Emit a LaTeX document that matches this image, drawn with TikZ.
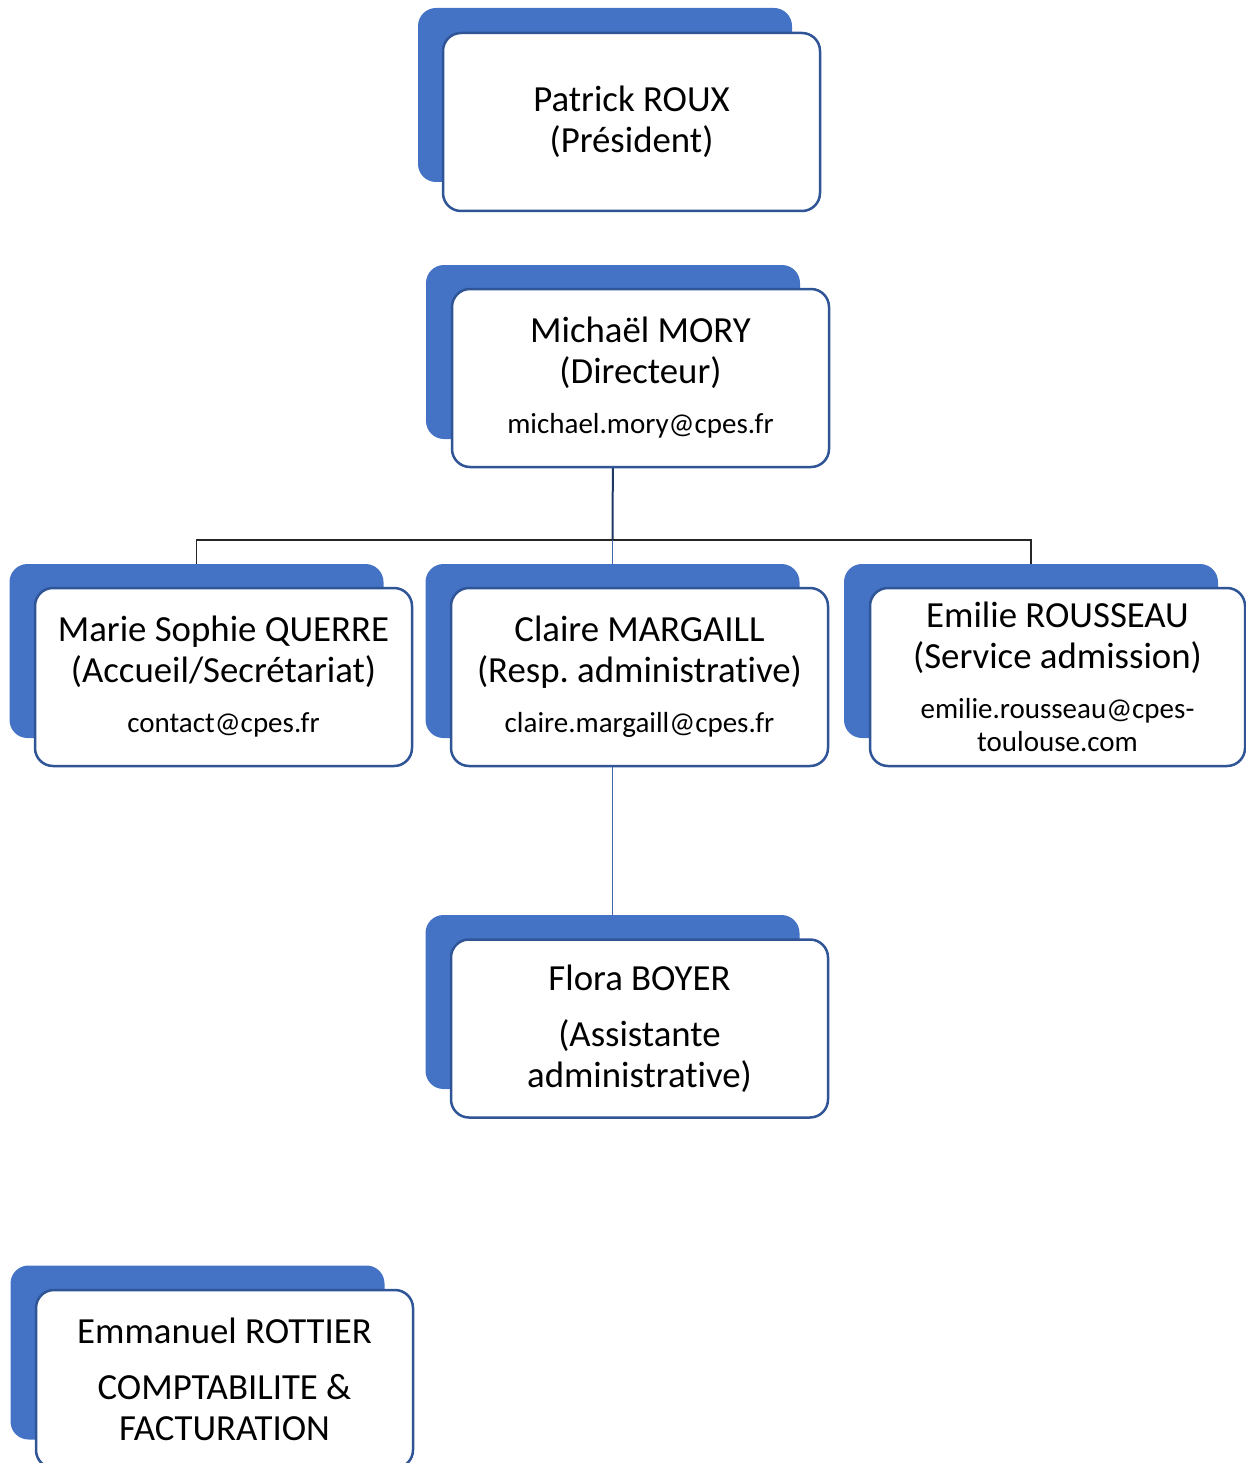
\documentclass[tikz,border=0pt]{standalone}
\usepackage{fontspec}
\setmainfont{Carlito}[Ligatures=NoCommon]
\frenchspacing
\definecolor{cardblue}{HTML}{4472C4}
\definecolor{cardedge}{HTML}{2F5597}
\definecolor{navyline}{HTML}{1F3864}
\definecolor{dropline}{HTML}{3F68B0}
\newcommand\emailtxt[1]{{\fontsize{29}{33}\selectfont #1}}
\pgfdeclarelayer{bg}
\pgfsetlayers{bg,main}
\tikzset{
  backcard/.style={draw=none, fill=cardblue, rounded corners=18pt, minimum width=374pt, minimum height=174pt, inner sep=0pt},
  frontcard/.style={draw=cardedge, line width=2.5pt, fill=white, rounded corners=18pt, minimum width=377pt, minimum height=178pt, inner sep=0pt, align=center, font=\fontsize{36.8}{41}\selectfont},
  treeline/.style={draw=black!85, line width=1.2pt},
  linkline/.style={draw=dropline, line width=1.6pt},
}
\begin{document}
\begin{tikzpicture}[x=1pt,y=-1pt]
\useasboundingbox (0,0) rectangle (1246,1463);
% cards
\node[backcard] (pb) at (605,95) {};
\node[frontcard] (p) at (631.5,122) {Patrick ROUX\\(Président)};
\node[backcard] (mb) at (613,352) {};
\node[frontcard] (m) at (640.5,378) {Michaël MORY\\(Directeur)\\[9pt]\emailtxt{michael.mory@cpes.fr}};
\node[backcard] (qb) at (196.5,651) {};
\node[frontcard] (q) at (223.5,677) {Marie Sophie QUERRE\\(Accueil/Secrétariat)\\[9pt]\emailtxt{contact@cpes.fr}};
\node[backcard] (cb) at (612.5,651) {};
\node[frontcard] (c) at (639.5,677) {Claire MARGAILL\\(Resp. administrative)\\[9pt]\emailtxt{claire.margaill@cpes.fr}};
\node[backcard] (eb) at (1031,651) {};
\node[frontcard, minimum width=375pt] (e) at (1057.5,677) {Emilie ROUSSEAU\\(Service admission)\\[9pt]\emailtxt{emilie.rousseau@cpes-}\\[-8pt]\emailtxt{toulouse.com}};
\node[backcard] (fb) at (612.5,1002) {};
\node[frontcard] (f) at (639.5,1028.5) {Flora BOYER\\[15pt](Assistante\\administrative)};
\node[backcard] (rb) at (197.5,1352.5) {};
\node[frontcard] (r) at (224.5,1379) {Emmanuel ROTTIER\\[15pt]COMPTABILITE \&\\FACTURATION};
% connectors
\coordinate (hub) at (612.5,540);
\begin{pgfonlayer}{bg}
  \draw[navyline, line width=2pt] (mb.south) -- (hub);
  \draw[treeline] (hub) -| ([yshift=-4pt]qb.north);
  \draw[treeline] (hub) -| ([yshift=-4pt]eb.north);
  \draw[linkline] (hub) -- ([yshift=-4pt]cb.north);
  \draw[linkline] (cb.south) -- (fb.north);
\end{pgfonlayer}
\end{tikzpicture}
\end{document}
